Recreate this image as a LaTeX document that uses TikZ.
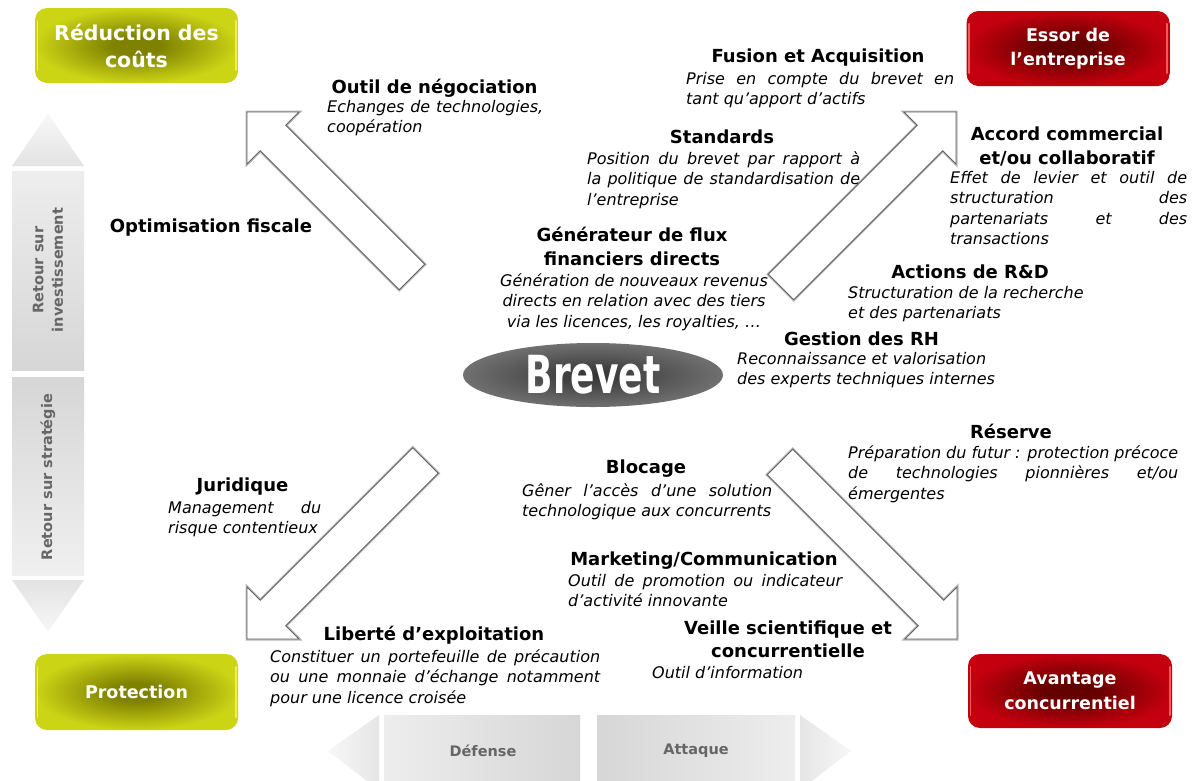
\documentclass[tikz,border=0pt]{standalone}
\usepackage{fontspec}
\setmainfont{DejaVu Sans}
\usetikzlibrary{shapes.geometric}
\definecolor{gin}{HTML}{7E8200}
\definecolor{gout}{HTML}{CCD416}
\definecolor{rin}{HTML}{640000}
\definecolor{rout}{HTML}{C4000E}
\definecolor{bartext}{HTML}{666666}
\pgfdeclareradialshading{greenshade}{\pgfpoint{0bp}{0bp}}{color(0bp)=(gin); color(6bp)=(gin); color(25bp)=(gout); color(50bp)=(gout)}
\pgfdeclareradialshading{redshade}{\pgfpoint{0bp}{0bp}}{color(0bp)=(rin); color(6bp)=(rin); color(25bp)=(rout); color(50bp)=(rout)}
\newcommand\jl[2]{\makebox[#1pt][s]{#2}}
\tikzset{
  gbox/.style={rectangle, rounded corners=12pt, minimum width=203pt, minimum height=75pt,
    shade, shading=greenshade, text=white, align=center,
    font=\bfseries\fontsize{17.5}{25}\selectfont},
  rbox/.style={gbox, shading=redshade},
  blockarrow/.style={fill=white, draw=black!62, line width=0.9pt, line join=miter,
    preaction={draw=black!28, line width=3pt, line join=miter}},
  head/.style={inner sep=0pt, font=\bfseries\fontsize{18}{23.5}\selectfont, align=center},
  desc/.style={inner sep=0pt, anchor=north west, align=left,
    font=\itshape\fontsize{16}{20.5}\selectfont, execute at begin node=\strut},
  bartxt/.style={inner sep=0pt, text=bartext, align=center,
    font=\bfseries\fontsize{14.5}{19.5}\selectfont},
  hilite/.style={line width=1.6pt, line cap=round, opacity=0.8}
}
\begin{document}
\begin{tikzpicture}[x=1pt,y=-1pt]
\path[use as bounding box] (0,0) rectangle (1195,780);
\clip (0,0) rectangle (1195,780);
\fill[white] (0,0) rectangle (1195,780);

% ---- left vertical bar
\shade[top color=gray!6, bottom color=gray!22] (12,166) -- (48,114) -- (84,166) -- cycle;
\shade[top color=gray!14, bottom color=gray!32] (12,171) rectangle (84,370);
\shade[top color=gray!32, bottom color=gray!12] (12,377) rectangle (84,575);
\shade[top color=gray!22, bottom color=gray!6] (12,580) -- (84,580) -- (48,632) -- cycle;
\node[bartxt, rotate=90] (roi) at (48,270) {Retour sur\\investissement};
\node[bartxt, rotate=90] (ros) at (48,477) {Retour sur stratégie};

% ---- bottom bar
\shade[left color=gray!6, right color=gray!20] (328,751) -- (379,715) -- (379,790) -- cycle;
\shade[left color=gray!14, right color=gray!32] (384,715) rectangle (580,790);
\shade[left color=gray!32, right color=gray!14] (597,715) rectangle (795,790);
\shade[left color=gray!20, right color=gray!6] (800,715) -- (851,751) -- (800,790) -- cycle;
\node[bartxt] (def) at (483,751) {Défense};
\node[bartxt] (att) at (696,751) {Attaque};

% ---- block arrows
\path[blockarrow] (399.3,289.7) -- (260.3,150.7) -- (247,164) -- (247,112) -- (299,112) -- (285.7,125.3) -- (424.7,264.3) -- cycle;
\path[blockarrow] (768.3,274.3) -- (917.3,125.3) -- (904,112) -- (956,112) -- (956,164) -- (942.7,150.7) -- (793.7,299.7) -- cycle;
\path[blockarrow] (412.8,447.8) -- (260.3,600.3) -- (247,587) -- (247,639) -- (299,639) -- (285.7,625.7) -- (438.2,473.2) -- cycle;
\path[blockarrow] (792.7,449.3) -- (943.7,600.3) -- (957,587) -- (957,639) -- (905,639) -- (918.3,625.7) -- (767.3,474.7) -- cycle;

% ---- corner boxes
\node[gbox, font=\bfseries\fontsize{20.5}{27}\selectfont] (rdc) at (136.5,45.5) {Réduction des\\coûts};
\node[rbox, font=\bfseries\fontsize{17.5}{24}\selectfont] (ess) at (1068,48.5) {Essor de\\l’entreprise};
\node[gbox, minimum height=76pt] (pro) at (136.5,692) {Protection};
\node[rbox, minimum height=74pt, minimum width=204pt, font=\bfseries\fontsize{17.5}{25}\selectfont] (ava) at (1070,691) {Avantage\\concurrentiel};
\foreach \b/\c in {rdc/yellow!70!white, pro/yellow!70!white, ess/red!55!white, ava/red!55!white}{
  \draw[hilite, \c] ([xshift=2.5pt,yshift=-13pt]\b.north west) -- ([xshift=2.5pt,yshift=13pt]\b.south west);
  \draw[hilite, \c] ([xshift=-2.5pt,yshift=-13pt]\b.north east) -- ([xshift=-2.5pt,yshift=13pt]\b.south east);
}

% ---- central ellipse
\node[ellipse, minimum width=260pt, minimum height=64pt, inner color=black!80, outer color=black!56,
  text=white, inner sep=0pt] (brevet) at (593,375)
  {\scalebox{0.72}[1.05]{\bfseries\fontsize{50}{50}\selectfont Brevet}};

% ---- texts
\node[head] (h1) at (434.5,88) {Outil de négociation};
\node[desc] (d1) at (327,100) {\jl{216}{Echanges de technologies,}\\coopération};

\node[head] (h2) at (818,58) {Fusion et Acquisition};
\node[desc] (d2) at (686,72) {\jl{268}{Prise en compte du brevet en}\\tant qu’apport d’actifs};

\node[head] (h3) at (722,137) {Standards};
\node[desc] (d3) at (587,151) {\jl{273}{Position du brevet par rapport à}\\\jl{273}{la politique de standardisation de}\\l’entreprise};

\node[head, font=\bfseries\fontsize{18}{24}\selectfont] (h4) at (1067,146) {Accord commercial\\et/ou collaboratif};
\node[desc] (d4) at (950,171) {\jl{237}{Effet de levier et outil de}\\\jl{237}{structuration des}\\\jl{237}{partenariats et des}\\transactions};

\node[head] (h5) at (211,228) {Optimisation fiscale};

\node[head] (h6) at (632,246.5) {Générateur de flux\\financiers directs};
\node[desc, anchor=north, align=center] (d6) at (634,273) {Génération de nouveaux revenus\\directs en relation avec des tiers\\via les licences, les royalties, …};

\node[head] (h7) at (970,272) {Actions de R\&D};
\node[desc] (d7) at (848,286) {Structuration de la recherche\\et des partenariats};

\node[head] (h8) at (861.5,339) {Gestion des RH};
\node[desc] (d8) at (737,352) {Reconnaissance et valorisation\\des experts techniques internes};

\node[head] (h10) at (1011,431) {Réserve};
\node[desc] (d10) at (848,445) {\jl{330}{Préparation du futur : protection précoce}\\\jl{330}{de technologies pionnières et/ou}\\émergentes};

\node[head] (h11) at (646,469) {Blocage};
\node[desc] (d11) at (522,483) {\jl{250}{Gêner l’accès d’une solution}\\technologique aux concurrents};

\node[head] (h12) at (242.5,487) {Juridique};
\node[desc] (d12) at (168,501) {\jl{153}{Management du}\\risque contentieux};

\node[head] (h13) at (704,561) {Marketing/Communication};
\node[desc] (d13) at (568,574) {\jl{274}{Outil de promotion ou indicateur}\\d’activité innovante};

\node[head] (h14) at (788,639.5) {Veille scientifique et\\concurrentielle};
\node[desc] (d14) at (652,664) {Outil d’information};

\node[head] (h15) at (434,635) {Liberté d’exploitation};
\node[desc] (d15) at (270,649) {\jl{330}{Constituer un portefeuille de précaution}\\\jl{330}{ou une monnaie d’échange notamment}\\pour une licence croisée};
\end{tikzpicture}
\end{document}
